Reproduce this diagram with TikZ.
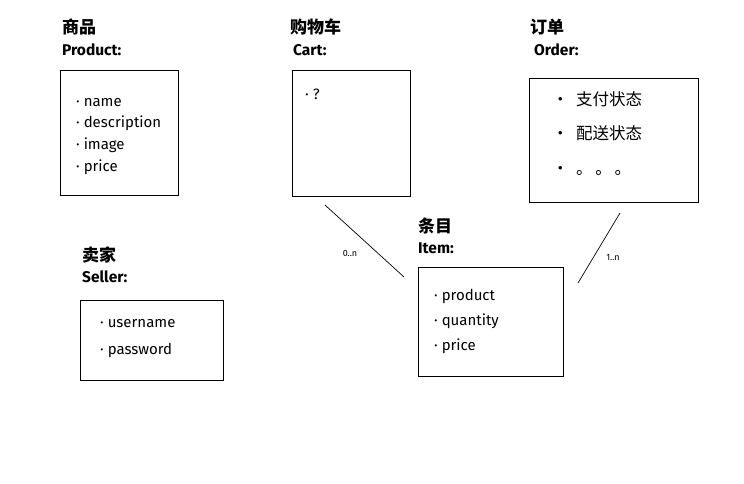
\documentclass[tikz,border=0pt]{standalone}
\usepackage{fontspec}
\setmainfont{Fira Sans}
\newfontfamily\cjk{Noto Sans CJK SC}
\usetikzlibrary{matrix,positioning}

\begin{document}
\begin{tikzpicture}[x=1pt,y=-1pt,
box/.style={draw, line width=0.9pt, anchor=north west, inner sep=0pt},
cntitle/.style={anchor=west, inner sep=0pt, font=\cjk\bfseries\fontsize{17}{19}\selectfont},
entitle/.style={anchor=west, inner sep=0pt, font=\bfseries\fontsize{15.5}{18}\selectfont},
list/.style={matrix of nodes, anchor=north west, inner sep=0pt,
    nodes={anchor=west, inner sep=0pt, text height=10pt, text depth=4pt,
    font=\fontsize{15}{17}\selectfont}},
mult/.style={font=\fontsize{9}{10}\selectfont, inner sep=0pt}]
\useasboundingbox (0,0) rectangle (744,483);
% Product
\node[cntitle] (prodcn) at (62,27) {商品};
\node[entitle] (proden) at (62,50) {Product:};
\node[box, minimum width=118pt, minimum height=125pt] (prodbox) at (60,70) {};
\matrix[list, row sep=7.7pt] (prodlist) at (76,96) {
· name\\
· description\\
· image\\
· price\\};
% Cart
\node[cntitle] (cartcn) at (290,27) {购物车};
\node[entitle] (carten) at (293,50) {Cart:};
\node[box, minimum width=118pt, minimum height=126pt] (cartbox) at (292,70) {};
\matrix[list] (cartlist) at (305,89) {
· ?\\};
% Order
\node[cntitle] (ordercn) at (530,27) {订单};
\node[entitle] (orderen) at (534,50) {Order:};
\node[box, minimum width=169pt, minimum height=124pt] (orderbox) at (529,78) {};
\matrix[list, row sep=20.5pt, nodes={font=\cjk\fontsize{16.5}{18}\selectfont}] (orderlist) at (552,95) {
·\ \ 支付状态\\
·\ \ 配送状态\\
·\ \ 。\,。\,。\\};
% Seller
\node[cntitle] (sellercn) at (82,255) {卖家};
\node[entitle] (selleren) at (82,277) {Seller:};
\node[box, minimum width=143pt, minimum height=80pt] (sellerbox) at (80,300) {};
\matrix[list, row sep=13pt] (sellerlist) at (100,317) {
· username\\
· password\\};
% Item
\node[cntitle] (itemcn) at (418,226) {条目};
\node[entitle] (itemen) at (418,248) {Item:};
\node[box, minimum width=145pt, minimum height=109pt] (itembox) at (418,267) {};
\matrix[list, row sep=11pt] (itemlist) at (434,290) {
· product\\
· quantity\\
· price\\};
% relations
\coordinate (cartend) at (325,205);
\coordinate (itemleft) at (404,277);
\coordinate (orderend) at (620,213);
\coordinate (itemright) at (578,283);
\draw[line width=0.7pt] (cartend) -- (itemleft);
\draw[line width=0.7pt] (orderend) -- (itemright);
\node[mult] (cartmult) at (350,253) {0..n};
\node[mult] (ordermult) at (613,258) {1..n};
\end{tikzpicture}
\end{document}
